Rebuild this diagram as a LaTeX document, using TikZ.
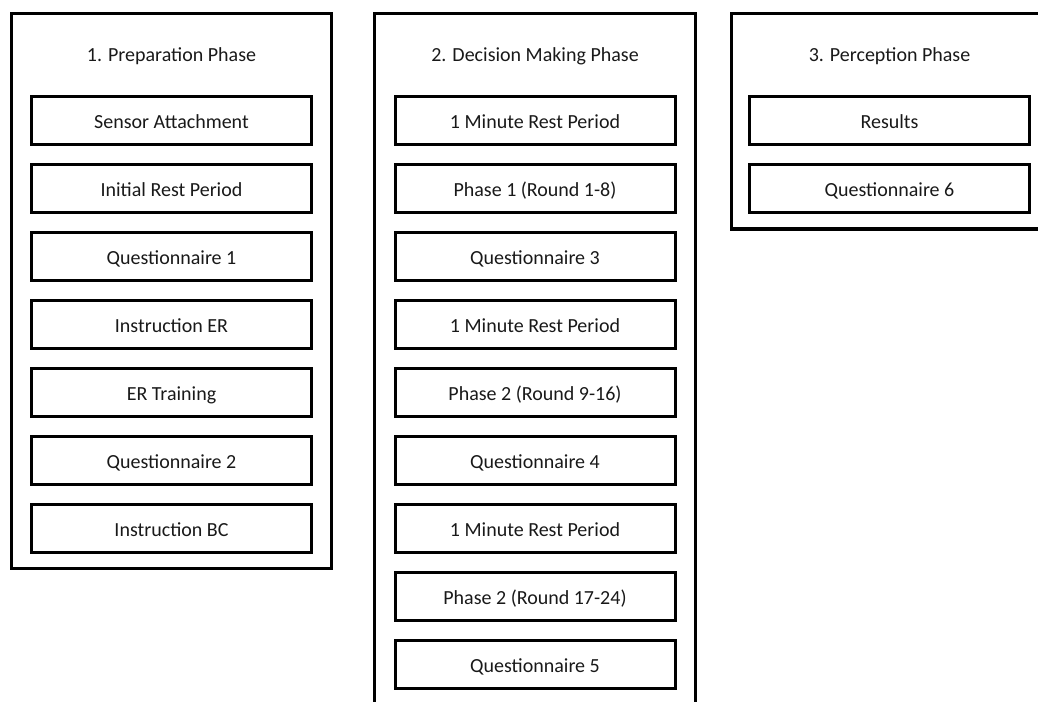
\documentclass[tikz,border=0pt]{standalone}
\usepackage{fontspec}
\setmainfont{Carlito}
\usetikzlibrary{positioning}
\tikzset{
  phase/.style={draw, line width=3.4pt},
  stepbox/.style={draw, line width=3pt, minimum width=280pt, minimum height=48pt,
    inner sep=0pt, outer sep=0pt, text height=19pt, text depth=4pt,
    text=black!90, font=\fontsize{20}{24}\selectfont},
  phasetitle/.style={inner sep=0pt, text height=19pt, text depth=4pt,
    text=black!90, font=\fontsize{20}{24}\selectfont}
}
\begin{document}
\begin{tikzpicture}[x=1pt,y=-1pt,node distance=20pt]
      \useasboundingbox (0,0) rectangle (1038,701);
      \clip (0,0) rectangle (1038,701);
      % phase frames
      \draw[phase] (11.5,13.5) rectangle (331.5,568.5);
      \draw[phase] (374.5,13.5) rectangle (695.5,720);
      \draw[phase] (731.5,13.5) rectangle (1052,229);
      % 1. preparation
      \node[phasetitle] (prep) at (171.5,54.5) {1. Preparation Phase};
      \node[stepbox] (prep1) at (171.5,120.5) {Sensor Attachment};
      \node[stepbox, below=of prep1] (prep2) {Initial Rest Period};
      \node[stepbox, below=of prep2] (prep3) {Questionnaire 1};
      \node[stepbox, below=of prep3] (prep4) {Instruction ER};
      \node[stepbox, below=of prep4] (prep5) {ER Training};
      \node[stepbox, below=of prep5] (prep6) {Questionnaire 2};
      \node[stepbox, below=of prep6] (prep7) {Instruction BC};
      % 2. decision making
      \node[phasetitle] (dec) at (535,54.5) {2. Decision Making Phase};
      \node[stepbox] (dec1) at (535,120.5) {1 Minute Rest Period};
      \node[stepbox, below=of dec1] (dec2) {Phase 1 (Round 1-8)};
      \node[stepbox, below=of dec2] (dec3) {Questionnaire 3};
      \node[stepbox, below=of dec3] (dec4) {1 Minute Rest Period};
      \node[stepbox, below=of dec4] (dec5) {Phase 2 (Round 9-16)};
      \node[stepbox, below=of dec5] (dec6) {Questionnaire 4};
      \node[stepbox, below=of dec6] (dec7) {1 Minute Rest Period};
      \node[stepbox, below=of dec7] (dec8) {Phase 2 (Round 17-24)};
      \node[stepbox, below=of dec8] (dec9) {Questionnaire 5};
      % 3. perception
      \node[phasetitle] (perc) at (889.5,54.5) {3. Perception Phase};
      \node[stepbox] (perc1) at (889.5,120.5) {Results};
      \node[stepbox, below=of perc1] (perc2) {Questionnaire 6};
    \end{tikzpicture}
\end{document}
